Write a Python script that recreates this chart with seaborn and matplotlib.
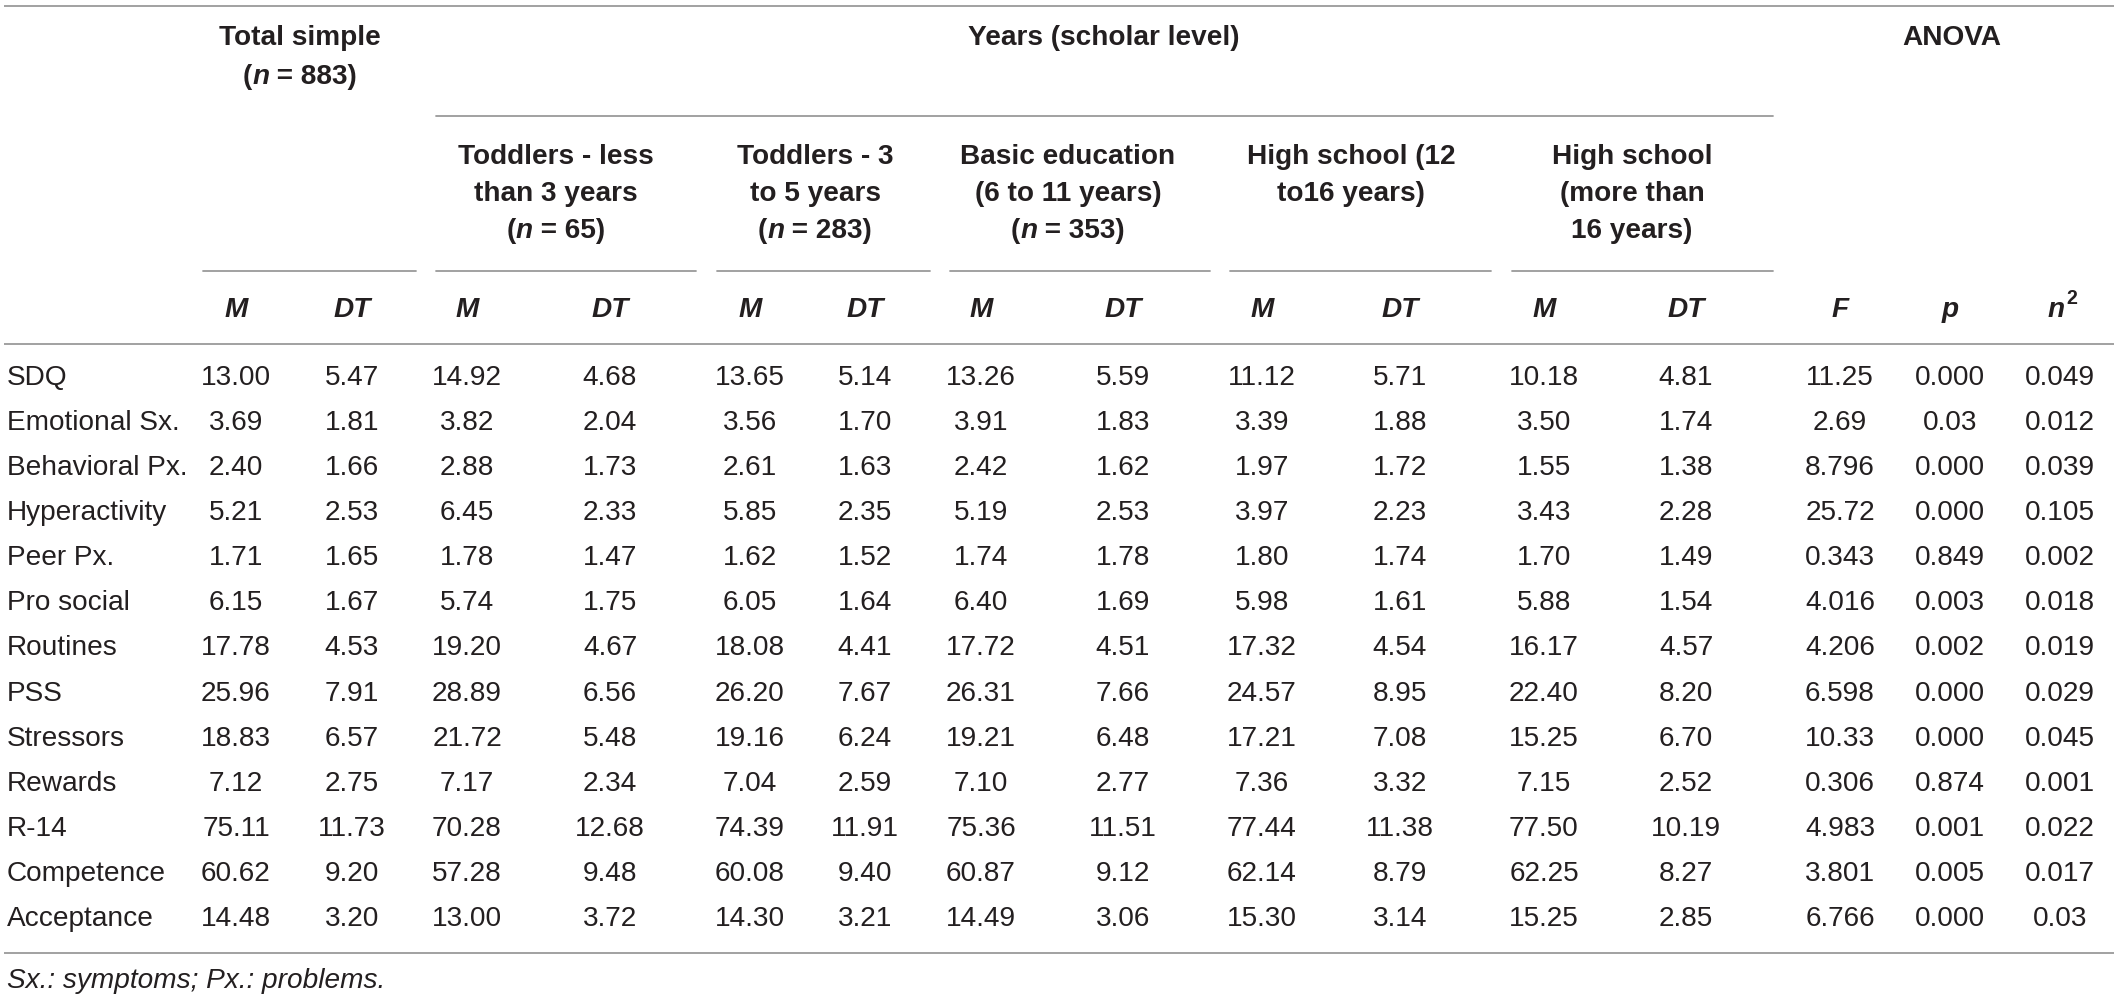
import matplotlib
matplotlib.use("Agg")
import matplotlib.pyplot as plt
import seaborn as sns

# --- table content ---
row_labels = ["SDQ", "Emotional Sx.", "Behavioral Px.", "Hyperactivity", "Peer Px.",
              "Pro social", "Routines", "PSS", "Stressors", "Rewards", "R-14",
              "Competence", "Acceptance"]

total_m = ["13.00", "3.69", "2.40", "5.21", "1.71", "6.15", "17.78", "25.96", "18.83", "7.12", "75.11", "60.62", "14.48"]
total_dt = ["5.47", "1.81", "1.66", "2.53", "1.65", "1.67", "4.53", "7.91", "6.57", "2.75", "11.73", "9.20", "3.20"]
tod3_m = ["14.92", "3.82", "2.88", "6.45", "1.78", "5.74", "19.20", "28.89", "21.72", "7.17", "70.28", "57.28", "13.00"]
tod3_dt = ["4.68", "2.04", "1.73", "2.33", "1.47", "1.75", "4.67", "6.56", "5.48", "2.34", "12.68", "9.48", "3.72"]
tod5_m = ["13.65", "3.56", "2.61", "5.85", "1.62", "6.05", "18.08", "26.20", "19.16", "7.04", "74.39", "60.08", "14.30"]
tod5_dt = ["5.14", "1.70", "1.63", "2.35", "1.52", "1.64", "4.41", "7.67", "6.24", "2.59", "11.91", "9.40", "3.21"]
basic_m = ["13.26", "3.91", "2.42", "5.19", "1.74", "6.40", "17.72", "26.31", "19.21", "7.10", "75.36", "60.87", "14.49"]
basic_dt = ["5.59", "1.83", "1.62", "2.53", "1.78", "1.69", "4.51", "7.66", "6.48", "2.77", "11.51", "9.12", "3.06"]
hs12_m = ["11.12", "3.39", "1.97", "3.97", "1.80", "5.98", "17.32", "24.57", "17.21", "7.36", "77.44", "62.14", "15.30"]
hs12_dt = ["5.71", "1.88", "1.72", "2.23", "1.74", "1.61", "4.54", "8.95", "7.08", "3.32", "11.38", "8.79", "3.14"]
hs16_m = ["10.18", "3.50", "1.55", "3.43", "1.70", "5.88", "16.17", "22.40", "15.25", "7.15", "77.50", "62.25", "15.25"]
hs16_dt = ["4.81", "1.74", "1.38", "2.28", "1.49", "1.54", "4.57", "8.20", "6.70", "2.52", "10.19", "8.27", "2.85"]
f_vals = ["11.25", "2.69", "8.796", "25.72", "0.343", "4.016", "4.206", "6.598", "10.33", "0.306", "4.983", "3.801", "6.766"]
p_vals = ["0.000", "0.03", "0.000", "0.000", "0.849", "0.003", "0.002", "0.000", "0.000", "0.874", "0.001", "0.005", "0.000"]
eta_vals = ["0.049", "0.012", "0.039", "0.105", "0.002", "0.018", "0.019", "0.029", "0.045", "0.001", "0.022", "0.017", "0.03"]

columns = [total_m, total_dt, tod3_m, tod3_dt, tod5_m, tod5_dt, basic_m, basic_dt,
           hs12_m, hs12_dt, hs16_m, hs16_dt, f_vals, p_vals, eta_vals]
col_heads = ["M", "DT"] * 6 + ["F", "p", "n"]

group_heads = [["Toddlers - less", "than 3 years", "(n = 65)"],
               ["Toddlers - 3", "to 5 years", "(n = 283)"],
               ["Basic education", "(6 to 11 years)", "(n = 353)"],
               ["High school (12", "to16 years)"],
               ["High school", "(more than", "16 years)"]]
total_head = ["Total simple", "(n = 883)"]
years_head = "Years (scholar level)"
anova_head = "ANOVA"
footnote = "Sx.: symptoms; Px.: problems."

# --- layout (pixels) ---
W, H = 2118, 999
col_x = [236, 352, 467, 610, 750, 865, 981, 1123, 1262, 1400, 1544, 1686, 1840, 1950, 2060]
group_x = [556, 815, 1068, 1351, 1632]
group_lines = [(203, 416), (436, 696), (717, 930), (950, 1210), (1230, 1491), (1512, 1773)]
row_y0, row_dy = 378, 45.08
FS = 20.2
TXT = "#231f20"
RULE = "#9a9a9a"

sns.set_theme(style="white")
plt.rcParams["font.family"] = ["Liberation Sans", "DejaVu Sans"]

fig = plt.figure(figsize=(W / 100, H / 100), dpi=100)
ax = fig.add_axes([0, 0, 1, 1])
ax.set_xlim(0, W)
ax.set_ylim(H, 0)
ax.axis("off")
renderer = fig.canvas.get_renderer()


def text_width(s, **kw):
    # width with spaces kept: measure "|s|" minus "||"
    t1 = ax.text(0, 0, "|" + s + "|", fontsize=FS, **kw)
    t2 = ax.text(0, 0, "||", fontsize=FS, **kw)
    w = (t1.get_window_extent(renderer).width - t2.get_window_extent(renderer).width)
    t1.remove()
    t2.remove()
    return w


def head_line(xc, y, s):
    # bold text where a lone "n" in "(n = ...)" is italic
    if s.startswith("(n = "):
        parts = [("(", "normal"), ("n", "italic"), (s[2:], "normal")]
    else:
        parts = [(s, "normal")]
    widths = [text_width(p, fontweight="bold", fontstyle=st) for p, st in parts]
    x = xc - sum(widths) / 2
    for (p, st), w in zip(parts, widths):
        ax.text(x, y, p, fontsize=FS, fontweight="bold", fontstyle=st,
                color=TXT, ha="left", va="center")
        x += w


# rules
for y in [6, 344, 953]:
    ax.plot([4, 2114], [y, y], color=RULE, lw=1.3, solid_capstyle="butt")
ax.plot([436, 1773], [116, 116], color=RULE, lw=1.3)
for x0, x1 in group_lines:
    ax.plot([x0, x1], [271, 271], color=RULE, lw=1.3)

# top header
head_line(300, 38, total_head[0])
head_line(300, 77, total_head[1])
head_line(1104, 38, years_head)
head_line(1952, 38, anova_head)
for xc, lines in zip(group_x, group_heads):
    for i, s in enumerate(lines):
        head_line(xc, 157 + 37 * i, s)

# column heads
for xc, h in zip(col_x, col_heads):
    ax.text(xc - (4 if h == "n" else 0), 310, h, fontsize=FS, fontweight="bold",
            fontstyle="italic", color=TXT, ha="center", va="center")
ax.text(col_x[-1] + 6, 299, "2", fontsize=FS * 0.7, fontweight="bold",
        color=TXT, ha="left", va="center")

# body
for i, lab in enumerate(row_labels):
    y = row_y0 + row_dy * i
    ax.text(7, y, lab, fontsize=FS, color=TXT, ha="left", va="center")
    for xc, vals in zip(col_x, columns):
        ax.text(xc, y, vals[i], fontsize=FS, color=TXT, ha="center", va="center")

ax.text(7, 981, footnote, fontsize=FS, fontstyle="italic", color=TXT,
        ha="left", va="center")

fig.savefig("out.png", dpi=100, facecolor="white")
